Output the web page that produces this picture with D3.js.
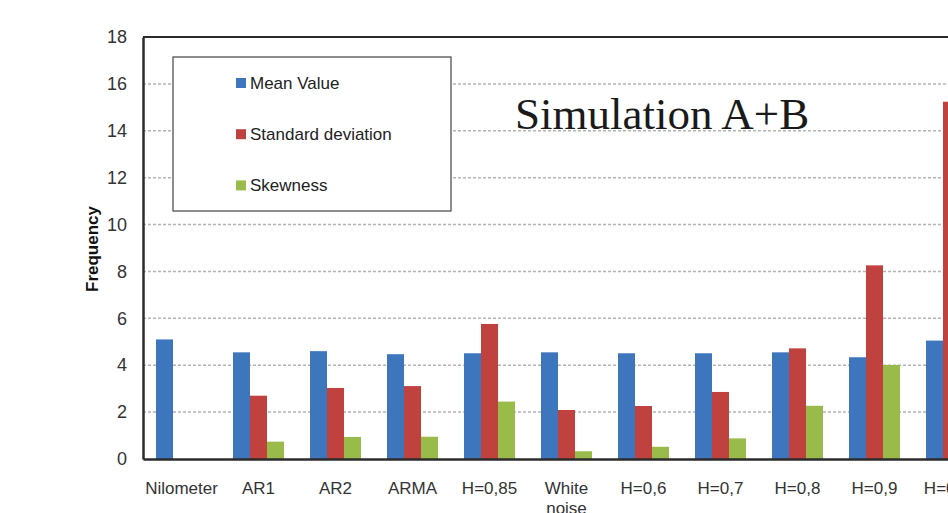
<!DOCTYPE html>
<html>
<head>
<meta charset="utf-8">
<script src="https://cdn.jsdelivr.net/npm/d3@7"></script>
<style>
  body { margin: 0; background: #fff; overflow: hidden; }
  svg { display: block; }
</style>
</head>
<body>
<svg id="chart" width="948" height="513"></svg>
<script>
// data
var categories = ["Nilometer", "AR1", "AR2", "ARMA", "H=0,85", "White noise",
                  "H=0,6", "H=0,7", "H=0,8", "H=0,9", "H=0,95"];
var meanValue = [5.1, 4.55, 4.6, 4.47, 4.51, 4.55, 4.51, 4.51, 4.55, 4.34, 5.05];
var stdDev    = [0, 2.7, 3.03, 3.11, 5.76, 2.09, 2.26, 2.86, 4.72, 8.26, 15.24];
var skewness  = [0, 0.74, 0.94, 0.95, 2.45, 0.33, 0.52, 0.88, 2.27, 4.01, 5.6];
var seriesNames = ["Mean Value", "Standard deviation", "Skewness"];
var seriesColors = ["#3d76bd", "#c0423f", "#98bb4a"];
var yTicks = [0, 2, 4, 6, 8, 10, 12, 14, 16, 18];

var series = [meanValue, stdDev, skewness];

var svg = d3.select("#chart");

var plotLeft = 143, plotTop = 37, plotBottom = 459;
var step = 77;

var x = d3.scaleBand()
    .domain(categories)
    .range([plotLeft, plotLeft + step * categories.length])
    .paddingInner(26 / 77)
    .paddingOuter(13 / 77);

var xs = d3.scaleBand()
    .domain(d3.range(series.length))
    .range([0, x.bandwidth()]);

var y = d3.scaleLinear()
    .domain([0, 18])
    .range([plotBottom, plotTop]);

var font = "'Liberation Sans', Arial, sans-serif";

// gridlines
svg.append("g")
    .selectAll("line")
    .data(yTicks.filter(function(d) { return d > 0 && d < 18; }))
    .join("line")
    .attr("x1", plotLeft)
    .attr("x2", 948)
    .attr("y1", function(d) { return y(d); })
    .attr("y2", function(d) { return y(d); })
    .attr("stroke", "#b4b4b4")
    .attr("stroke-width", 1.5)
    .attr("stroke-dasharray", "3,2");

// top frame line
svg.append("line")
    .attr("x1", plotLeft).attr("x2", 948)
    .attr("y1", y(18)).attr("y2", y(18))
    .attr("stroke", "#2b2b2b")
    .attr("stroke-width", 2);

// bars
var groups = svg.append("g")
    .selectAll("g")
    .data(categories)
    .join("g")
    .attr("transform", function(d) { return "translate(" + x(d) + ",0)"; });

groups.selectAll("rect")
    .data(function(d, i) {
        return series.map(function(s, k) { return { k: k, v: s[i] }; })
                     .filter(function(b) { return b.v > 0; });
    })
    .join("rect")
    .attr("x", function(d) { return xs(d.k); })
    .attr("width", xs.bandwidth())
    .attr("y", function(d) { return y(d.v); })
    .attr("height", function(d) { return y(0) - y(d.v); })
    .attr("fill", function(d) { return seriesColors[d.k]; });

// axes
var yAxis = d3.axisLeft(y).tickValues(yTicks).tickSize(0).tickPadding(16);
var gy = svg.append("g")
    .attr("transform", "translate(" + plotLeft + ",0)")
    .call(yAxis);
gy.select(".domain").attr("stroke", "#2b2b2b").attr("stroke-width", 2.5);
gy.selectAll("text")
    .attr("font-family", font)
    .attr("font-size", 18)
    .attr("fill", "#333");

var xAxis = d3.axisBottom(x).tickSize(0).tickPadding(0);
var gx = svg.append("g")
    .attr("transform", "translate(0," + plotBottom + ")")
    .call(xAxis);
gx.select(".domain").attr("stroke", "#2b2b2b").attr("stroke-width", 2.5);
gx.selectAll("text")
    .attr("font-family", font)
    .attr("font-size", 17)
    .attr("fill", "#333")
    .attr("dy", null)
    .attr("y", 35)
    .each(function(d) {
        var t = d3.select(this);
        var words = d.split(" ");
        if (words.length > 1) {
            t.text(null);
            words.forEach(function(w, i) {
                t.append("tspan").attr("x", 0).attr("y", 35 + i * 20).text(w);
            });
        }
    });

// y title
svg.append("text")
    .attr("transform", "translate(98,249) rotate(-90)")
    .attr("text-anchor", "middle")
    .attr("font-family", font)
    .attr("font-weight", "bold")
    .attr("font-size", 17)
    .attr("fill", "#111")
    .text("Frequency");

// legend
var legend = svg.append("g");
legend.append("rect")
    .attr("x", 173).attr("y", 57)
    .attr("width", 278).attr("height", 154)
    .attr("fill", "#fff")
    .attr("stroke", "#444")
    .attr("stroke-width", 1.2);

var items = legend.selectAll("g")
    .data(seriesNames)
    .join("g")
    .attr("transform", function(d, i) { return "translate(236," + (83 + i * 51.2) + ")"; });
items.append("rect")
    .attr("x", 0).attr("y", -5)
    .attr("width", 10).attr("height", 10)
    .attr("fill", function(d, i) { return seriesColors[i]; });
items.append("text")
    .attr("x", 14)
    .attr("dy", "0.35em")
    .attr("font-family", font)
    .attr("font-size", 17)
    .attr("fill", "#222")
    .text(function(d) { return d; });

// title
svg.append("text")
    .attr("x", 515)
    .attr("y", 129)
    .attr("font-family", "'Liberation Serif', 'Times New Roman', serif")
    .attr("font-size", 45)
    .attr("fill", "#1a1a1a")
    .text("Simulation A+B");
</script>
</body>
</html>
